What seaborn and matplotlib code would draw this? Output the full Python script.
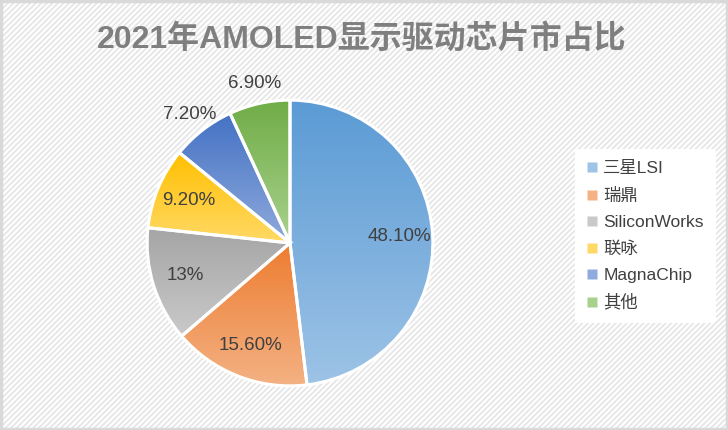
import numpy as np
import seaborn as sns
import matplotlib.pyplot as plt
from matplotlib.patches import Rectangle
from matplotlib.lines import Line2D
from matplotlib.colors import to_rgb

# data
companies = ['三星LSI', '瑞鼎', 'SiliconWorks', '联咏', 'MagnaChip', '其他']
shares = [48.1, 15.6, 13.0, 9.2, 7.2, 6.9]
top_colors = ['#5b9bd5', '#ed7d31', '#a5a5a5', '#ffc000', '#4472c4', '#70ad47']
bottom_colors = ['#9dc3e6', '#f4b183', '#c9c9c9', '#ffd966', '#8faadc', '#a9d18e']
title = '2021年AMOLED显示驱动芯片市占比'

sns.set_theme(style='white')
plt.rcParams['font.family'] = ['Liberation Sans', 'Noto Sans CJK SC', 'DejaVu Sans']
plt.rcParams['hatch.color'] = '#e6e6e6'
plt.rcParams['hatch.linewidth'] = 1.3

W, H = 728, 430
fig = plt.figure(figsize=(W / 100, H / 100), dpi=100)

# background with diagonal stripes and a thin frame
bg = fig.add_axes([0, 0, 1, 1])
bg.set_xlim(0, 1)
bg.set_ylim(0, 1)
bg.axis('off')
bg.add_patch(Rectangle((0, 0), 1, 1, facecolor='white', hatch='//////', edgecolor='#e6e6e6', lw=0))
bg.add_patch(Rectangle((0.002, 0.003), 0.996, 0.994, facecolor='none', edgecolor='#d9d9d9', lw=2.5))

# pie axes: center (290, 243) px, radius ~143 px
cx, cy, half = 290, 243, 150
ax = fig.add_axes([(cx - half) / W, (H - cy - half) / H, 2 * half / W, 2 * half / H])
ax.axis('off')

wedges, _ = ax.pie(shares, startangle=90, counterclock=False, radius=1.0,
                   colors=['none'] * len(shares),
                   wedgeprops=dict(edgecolor='white', linewidth=2.2, zorder=3))

for w, c_top, c_bot in zip(wedges, top_colors, bottom_colors):
    x0, y0, x1, y1 = w.get_path().get_extents().extents
    t = np.linspace(0, 1, 64)[:, None]
    grad = (1 - t) * np.array(to_rgb(c_top)) + t * np.array(to_rgb(c_bot))
    im = ax.imshow(grad[:, None, :], extent=(x0, x1, y0, y1), origin='upper',
                   aspect='auto', zorder=2, interpolation='bilinear')
    im.set_clip_path(w)

for w, v in zip(wedges, shares):
    mid = np.deg2rad((w.theta1 + w.theta2) / 2)
    r = 1.14 if v < 8 else 0.77
    txt = f'{v:.0f}%' if float(v).is_integer() else f'{v:.2f}%'
    ax.text(r * np.cos(mid), r * np.sin(mid), txt, ha='center', va='center',
            fontsize=13.5, color='#404040', zorder=4)

ax.set_xlim(-1.05, 1.05)
ax.set_ylim(-1.05, 1.05)
ax.set_aspect('equal')

# legend
handles = [Line2D([], [], marker='s', linestyle='none', markersize=6.5,
                  markerfacecolor=c, markeredgecolor='none') for c in bottom_colors]
fig.legend(handles, companies, loc='center left', bbox_to_anchor=(566 / W, 1 - 236 / H),
           frameon=True, facecolor='white', edgecolor='none', framealpha=1,
           fontsize=12.5, labelcolor='#404040', handlelength=0.6, handletextpad=0.35,
           labelspacing=0.64, borderpad=0.7)

fig.text(362 / W, 1 - 39 / H, title, ha='center', va='center', fontsize=23,
         fontweight='bold', color='#7f7f7f')

fig.savefig('out.png', dpi=100)
